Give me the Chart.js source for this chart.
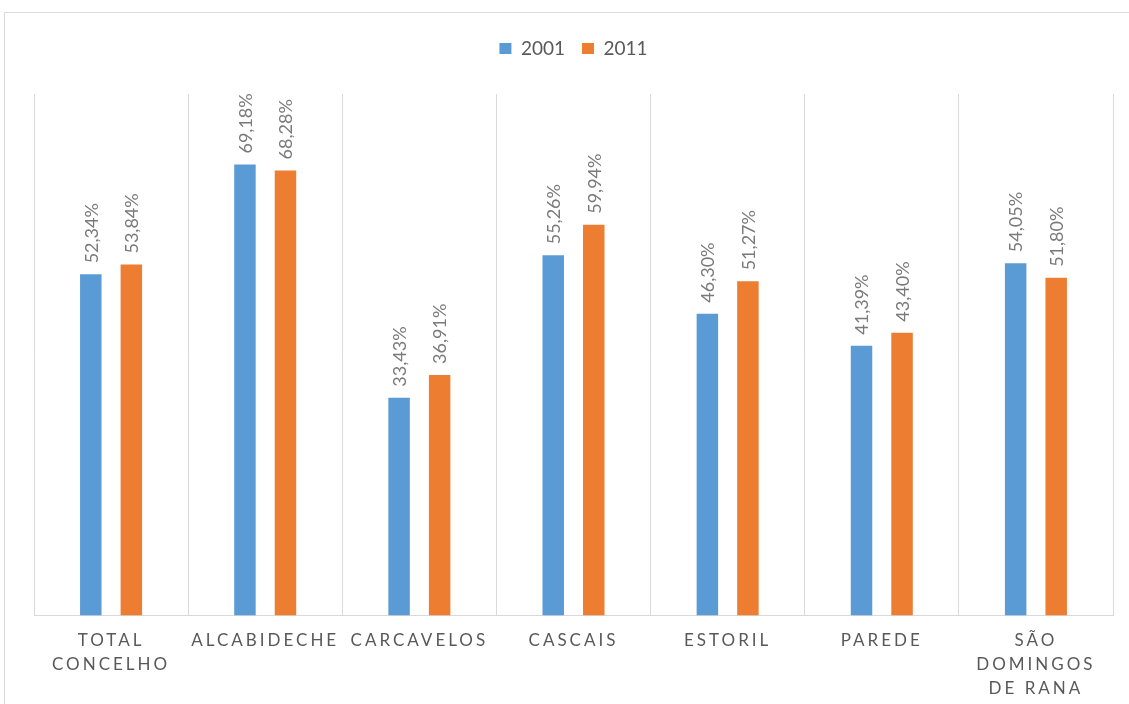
<!DOCTYPE html>
<html>
<head>
<meta charset="utf-8">
<script src="https://cdn.jsdelivr.net/npm/chart.js@4/dist/chart.umd.min.js"></script>
<style>
  html, body { margin: 0; padding: 0; background: #fff; overflow: hidden; }
  #wrap { position: relative; width: 1129px; height: 704px; }
  #frame { position: absolute; left: 4px; top: 12px; width: 1200px; height: 800px; border: 1px solid #d9d9d9; pointer-events: none; }
</style>
</head>
<body>
<div id="wrap">
  <canvas id="c" width="1129" height="704"></canvas>
  <div id="frame"></div>
</div>
<script>
const categories = [
  ['TOTAL', 'CONCELHO'],
  'ALCABIDECHE',
  'CARCAVELOS',
  'CASCAIS',
  'ESTORIL',
  'PAREDE',
  ['SÃO', 'DOMINGOS', 'DE RANA']
];
const seriesNames = ['2001', '2011'];
const values2001 = [52.34, 69.18, 33.43, 55.26, 46.30, 41.39, 54.05];
const values2011 = [53.84, 68.28, 36.91, 59.94, 51.27, 43.40, 51.80];
const colors = ['#5B9BD5', '#ED7D31'];

const FONT = 'Lato, "Open Sans", sans-serif';

const legendSpace = {
  id: 'legendSpace',
  beforeInit(chart) {
    const lg = chart.legend;
    if (!lg) return;
    const orig = lg.fit;
    lg.fit = function () { orig.call(this); this.height += 26; };
  }
};

const labelPlugin = {
  id: 'valueLabels',
  afterDatasetsDraw(chart) {
    const ctx = chart.ctx;
    ctx.save();
    ctx.letterSpacing = '0px';
    ctx.font = '18px ' + FONT;
    ctx.fillStyle = '#7a7a7a';
    ctx.textAlign = 'left';
    ctx.textBaseline = 'middle';
    chart.data.datasets.forEach((ds, di) => {
      const meta = chart.getDatasetMeta(di);
      meta.data.forEach((bar, i) => {
        const txt = ds.data[i].toFixed(2).replace('.', ',') + '%';
        ctx.save();
        ctx.translate(bar.x + 1, bar.y - 11);
        ctx.rotate(-Math.PI / 2);
        ctx.fillText(txt, 0, 0);
        ctx.restore();
      });
    });
    ctx.restore();
    // letter spacing for x tick labels drawn after datasets (ticks z = 1)
    ctx.letterSpacing = '3px';
  },
  afterDraw(chart) {
    chart.ctx.letterSpacing = '0px';
  }
};

new Chart(document.getElementById('c'), {
  type: 'bar',
  data: {
    labels: categories,
    datasets: [
      { label: seriesNames[0], data: values2001, backgroundColor: colors[0] },
      { label: seriesNames[1], data: values2011, backgroundColor: colors[1] }
    ]
  },
  options: {
    responsive: false,
    animation: false,
    events: [],
    categoryPercentage: 0.526,
    barPercentage: 0.53,
    layout: { padding: { left: 34, right: 16, top: 22, bottom: 0 } },
    plugins: {
      legend: {
        position: 'top',
        labels: {
          font: { family: FONT, size: 19 },
          color: '#595959',
          boxWidth: 12,
          boxHeight: 11,
          padding: 17
        }
      },
      tooltip: { enabled: false }
    },
    scales: {
      x: {
        afterFit(scale) { scale.height -= 9; },
        grid: { color: '#d9d9d9', lineWidth: 1, drawTicks: false, offset: true },
        border: { color: '#d9d9d9' },
        ticks: {
          z: 1,
          color: '#595959',
          font: { family: FONT, size: 17, lineHeight: 1.4 },
          padding: 13,
          maxRotation: 0,
          minRotation: 0,
          autoSkip: false
        }
      },
      y: {
        display: false,
        min: 0,
        max: 80
      }
    }
  },
  plugins: [legendSpace, labelPlugin]
});
</script>
</body>
</html>
